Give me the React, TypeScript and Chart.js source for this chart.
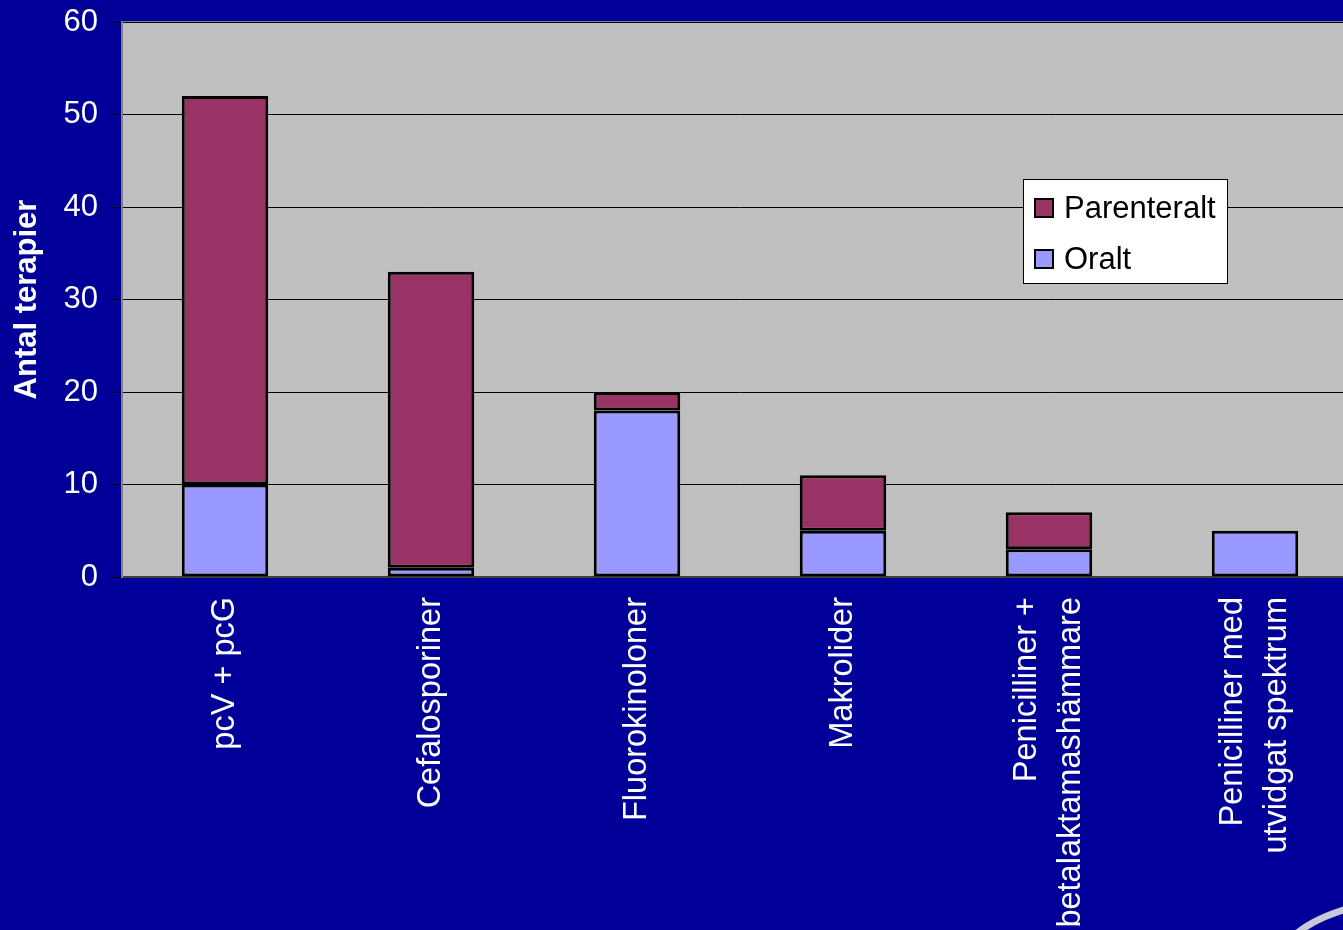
import React, { useEffect, useRef } from 'react';
import { Chart, registerables } from 'chart.js';

Chart.register(...registerables);

const categories: string[][] = [
  ['pcV + pcG'],
  ['Cefalosporiner'],
  ['Fluorokinoloner'],
  ['Makrolider'],
  ['Penicilliner +', 'betalaktamashämmare'],
  ['Penicilliner med', 'utvidgat spektrum'],
];
const oralt = [10, 1, 18, 5, 3, 5];
const parenteralt = [42, 32, 2, 6, 4, 0];
const yMin = 0;
const yMax = 60;
const yStep = 10;
const yTitle = 'Antal terapier';
const seriesNames = ['Oralt', 'Parenteralt'];

const BG = '#000099';
const PLOT_BG = '#C0C0C0';
const FONT = '"Liberation Sans", Arial, sans-serif';

const bgPlugin = {
  id: 'bgPlugin',
  beforeDraw(chart: any) {
    const { ctx, chartArea } = chart;
    ctx.save();
    ctx.fillStyle = BG;
    ctx.fillRect(0, 0, chart.width, chart.height);
    // slide decoration arc (bottom-right)
    ctx.strokeStyle = '#C8C8D8';
    ctx.lineWidth = 7;
    ctx.beginPath();
    ctx.moveTo(1296, 934);
    ctx.quadraticCurveTo(1315, 918, 1350, 908);
    ctx.stroke();
    ctx.fillStyle = PLOT_BG;
    ctx.fillRect(chartArea.left, chartArea.top, chartArea.right - chartArea.left, chartArea.bottom - chartArea.top);
    ctx.strokeStyle = '#808080';
    ctx.lineWidth = 2;
    ctx.strokeRect(chartArea.left, chartArea.top, chartArea.right - chartArea.left, chartArea.bottom - chartArea.top);
    ctx.restore();
  },
};

const labelsPlugin = {
  id: 'xLabels',
  afterDraw(chart: any) {
    const { ctx } = chart;
    const xs = chart.scales.x;
    const top = xs.top + 20;
    ctx.save();
    ctx.fillStyle = '#FFFFFF';
    ctx.font = `32.5px ${FONT}`;
    ctx.textAlign = 'right';
    ctx.textBaseline = 'middle';
    categories.forEach((lines, i) => {
      const px = xs.getPixelForValue(i);
      const n = lines.length;
      const lh = 44;
      lines.forEach((t, j) => {
        const x = px + (j - (n - 1) / 2) * lh;
        ctx.save();
        ctx.translate(x, top);
        ctx.rotate(-Math.PI / 2);
        ctx.fillText(t, 0, 0);
        ctx.restore();
      });
    });
    ctx.restore();
  },
};

const legendPlugin = {
  id: 'boxLegend',
  afterDraw(chart: any) {
    const { ctx } = chart;
    const x = 1023.5;
    const y = 179.5;
    const w = 204;
    const h = 104;
    ctx.save();
    ctx.fillStyle = '#FFFFFF';
    ctx.fillRect(x, y, w, h);
    ctx.strokeStyle = '#000000';
    ctx.lineWidth = 1;
    ctx.strokeRect(x, y, w, h);
    const items = chart.data.datasets.slice().reverse();
    ctx.font = `31px ${FONT}`;
    ctx.textAlign = 'left';
    ctx.textBaseline = 'middle';
    items.forEach((ds: any, i: number) => {
      const cy = 208 + i * 51;
      ctx.fillStyle = ds.backgroundColor;
      ctx.fillRect(1035, cy - 9, 18, 18);
      ctx.strokeStyle = '#000000';
      ctx.lineWidth = 2;
      ctx.strokeRect(1035, cy - 9, 18, 18);
      ctx.fillStyle = '#000000';
      ctx.fillText(ds.label, 1064, cy + 1);
    });
    ctx.restore();
  },
};

export default function App() {
  const ref = useRef<HTMLCanvasElement | null>(null);

  useEffect(() => {
    if (!ref.current) return;
    const chart = new Chart(ref.current, {
      type: 'bar',
      data: {
        labels: categories.map((c) => c.join(' ')),
        datasets: [
          {
            label: seriesNames[0],
            data: oralt,
            backgroundColor: '#9999FF',
            borderColor: '#000000',
            borderWidth: 3,
            borderSkipped: false,
          },
          {
            label: seriesNames[1],
            data: parenteralt,
            backgroundColor: '#993366',
            borderColor: '#000000',
            borderWidth: 3,
            borderSkipped: false,
          },
        ],
      },
      options: {
        responsive: false,
        animation: false,
        layout: { padding: { top: 22, left: 0, right: 0, bottom: 0 } },
        plugins: {
          legend: { display: false },
          tooltip: { enabled: false },
        },
        datasets: {
          bar: { categoryPercentage: 1, barPercentage: 0.42 },
        },
        scales: {
          x: {
            stacked: true,
            grid: { display: false },
            border: { display: true, color: '#404040', width: 2 },
            ticks: { display: false },
            afterFit: (s: any) => {
              s.height = 930 - 577;
              s.paddingLeft = 0;
              s.paddingRight = 0;
            },
          },
          y: {
            stacked: true,
            min: yMin,
            max: yMax,
            ticks: {
              stepSize: yStep,
              color: '#FFFFFF',
              font: { family: FONT, size: 31 },
              padding: 14,
            },
            grid: {
              color: '#000000',
              lineWidth: 1,
              tickColor: '#000000',
              tickLength: 10,
            },
            border: { display: true, color: '#808080', width: 2 },
            title: {
              display: true,
              text: yTitle,
              color: '#FFFFFF',
              font: { family: FONT, size: 31, weight: 'bold' },
              padding: { top: 9, bottom: 0 },
            },
            afterFit: (s: any) => {
              s.width = 122;
              s.paddingTop = 0;
              s.paddingBottom = 0;
            },
          },
        },
      },
      plugins: [bgPlugin, labelsPlugin, legendPlugin],
    });
    return () => chart.destroy();
  }, []);

  return (
    <div
      style={{
        position: 'fixed',
        left: 0,
        top: 0,
        width: 1343,
        height: 930,
        overflow: 'hidden',
        background: BG,
      }}
    >
      <canvas ref={ref} width={1358} height={930} style={{ display: 'block', width: 1358, height: 930 }} />
    </div>
  );
}
